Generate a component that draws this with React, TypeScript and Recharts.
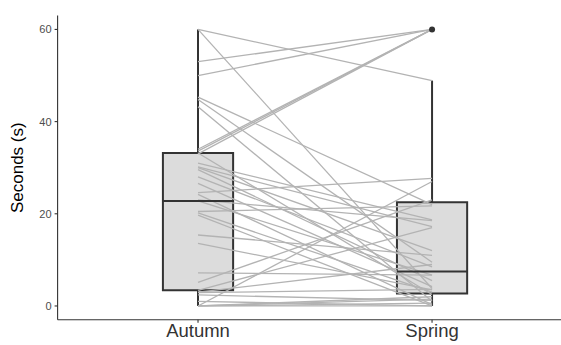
import React from 'react';
import {
  ComposedChart,
  Line,
  Scatter,
  XAxis,
  YAxis,
  ReferenceArea,
  ReferenceLine,
  Label,
} from 'recharts';

// ---- data ----
const categories = ['Autumn', 'Spring'];
const categoryPositions = [1, 2];

// paired observations (same subject in Autumn and Spring)
const autumnValues = [
  60, 60, 53, 50, 45.3, 44.8, 43.2, 34, 33.6, 33, 33.2, 31, 30.2, 30, 29.6, 28,
  26.6, 24.6, 24.2, 23, 22.8, 20.5, 20.2, 19.7, 15.4, 13.6, 7.2, 5.1, 3.4, 2.9,
  2.4, 0, 0, 0, 0, 0, 1, 3,
];
const springValues = [
  48.9, 3.8, 60, 60, 22, 9.5, 1, 60, 60, 60, 2.5, 18.7, 17.2, 12, 5.5, 8.5,
  4.2, 27.7, 0.3, 18.5, 6.7, 21.7, 3, 0, 11, 3.5, 6.7, 23, 17, 3.6,
  1.2, 27, 2, 0.6, 0, 1.5, 0, 9,
];

// boxplot summary per category
const boxQ1 = [3.4, 2.7];
const boxMedian = [22.8, 7.5];
const boxQ3 = [33.2, 22.5];
const whiskerLow = [0, 0];
const whiskerHigh = [60, 48.9];
const outlierCategory = [2];
const outlierValues = [60];

const yTicks = [0, 20, 40, 60];
const yLabel = 'Seconds (s)';

// ---- styling ----
const FONT = '"Liberation Sans", Arial, Helvetica, sans-serif';
const BOX_HALF = 0.15;
const DARK = '#333333';

const pairs = autumnValues.map((a, i) => [
  { x: categoryPositions[0], y: a },
  { x: categoryPositions[1], y: springValues[i] },
]);
const outlierData = outlierValues.map((v, i) => ({ x: outlierCategory[i], y: v }));

const YLabelContent = (props: any) => {
  const vb = props.viewBox || { x: 0, y: 0, width: 0, height: 0 };
  const cx = vb.x + 18;
  const cy = vb.y + vb.height / 2;
  return (
    <text
      x={cx}
      y={cy}
      transform={`rotate(-90 ${cx} ${cy})`}
      textAnchor="middle"
      dominantBaseline="central"
      fontSize={17}
      fill="#000"
      fontFamily={FONT}
    >
      {yLabel}
    </text>
  );
};

export default function App() {
  return (
    <div style={{ position: 'absolute', left: 0, top: 0, background: '#fff' }}>
      <ComposedChart
        width={561}
        height={345}
        margin={{ top: 15.6, right: 0, bottom: 0, left: 0 }}
      >
        <XAxis
          type="number"
          dataKey="x"
          domain={[0.4, 2.551]}
          ticks={categoryPositions}
          tickFormatter={(v: number) => categories[categoryPositions.indexOf(v)] ?? ''}
          allowDataOverflow
          height={25.2}
          stroke={DARK}
          tickSize={3}
          tickMargin={1}
          tick={{ fill: '#333333', fontSize: 18.5, fontFamily: FONT }}
          axisLine={{ stroke: DARK, strokeWidth: 1.1 }}
          tickLine={{ stroke: DARK, strokeWidth: 1.1 }}
          interval={0}
        />
        <YAxis
          type="number"
          domain={[-3, 63]}
          ticks={yTicks}
          allowDataOverflow
          width={57.6}
          stroke={DARK}
          tickSize={3}
          tickMargin={3}
          tick={{ fill: '#4d4d4d', fontSize: 11, fontFamily: FONT }}
          axisLine={{ stroke: DARK, strokeWidth: 1.1 }}
          tickLine={{ stroke: DARK, strokeWidth: 1.1 }}
          interval={0}
        >
          <Label content={<YLabelContent />} />
        </YAxis>

        {/* box fills */}
        {categoryPositions.map((c, i) => (
          <ReferenceArea
            key={`fill-${i}`}
            x1={c - BOX_HALF}
            x2={c + BOX_HALF}
            y1={boxQ1[i]}
            y2={boxQ3[i]}
            fill="#dcdcdc"
            fillOpacity={1}
            stroke="none"
            ifOverflow="visible"
          />
        ))}
        {/* whiskers */}
        {categoryPositions.map((c, i) => (
          <ReferenceLine
            key={`wh-${i}`}
            segment={[
              { x: c, y: boxQ3[i] },
              { x: c, y: whiskerHigh[i] },
            ]}
            stroke={DARK}
            strokeWidth={2}
            ifOverflow="visible"
          />
        ))}
        {categoryPositions.map((c, i) => (
          <ReferenceLine
            key={`wl-${i}`}
            segment={[
              { x: c, y: whiskerLow[i] },
              { x: c, y: boxQ1[i] },
            ]}
            stroke={DARK}
            strokeWidth={2}
            ifOverflow="visible"
          />
        ))}

        {/* paired lines */}
        {pairs.map((d, i) => (
          <Line
            key={`p-${i}`}
            data={d}
            dataKey="y"
            type="linear"
            stroke="#b3b3b3"
            strokeWidth={1.3}
            dot={false}
            activeDot={false}
            isAnimationActive={false}
            legendType="none"
          />
        ))}

        {/* box outlines and medians */}
        {categoryPositions.map((c, i) => (
          <ReferenceArea
            key={`box-${i}`}
            x1={c - BOX_HALF}
            x2={c + BOX_HALF}
            y1={boxQ1[i]}
            y2={boxQ3[i]}
            fill="none"
            fillOpacity={0}
            stroke={DARK}
            strokeWidth={2}
            ifOverflow="visible"
          />
        ))}
        {categoryPositions.map((c, i) => (
          <ReferenceLine
            key={`med-${i}`}
            segment={[
              { x: c - BOX_HALF, y: boxMedian[i] },
              { x: c + BOX_HALF, y: boxMedian[i] },
            ]}
            stroke={DARK}
            strokeWidth={2}
            ifOverflow="visible"
          />
        ))}

        <Scatter
          data={outlierData}
          dataKey="y"
          isAnimationActive={false}
          shape={(p: any) => <circle cx={p.cx} cy={p.cy} r={3} fill={DARK} />}
        />
      </ComposedChart>
    </div>
  );
}
